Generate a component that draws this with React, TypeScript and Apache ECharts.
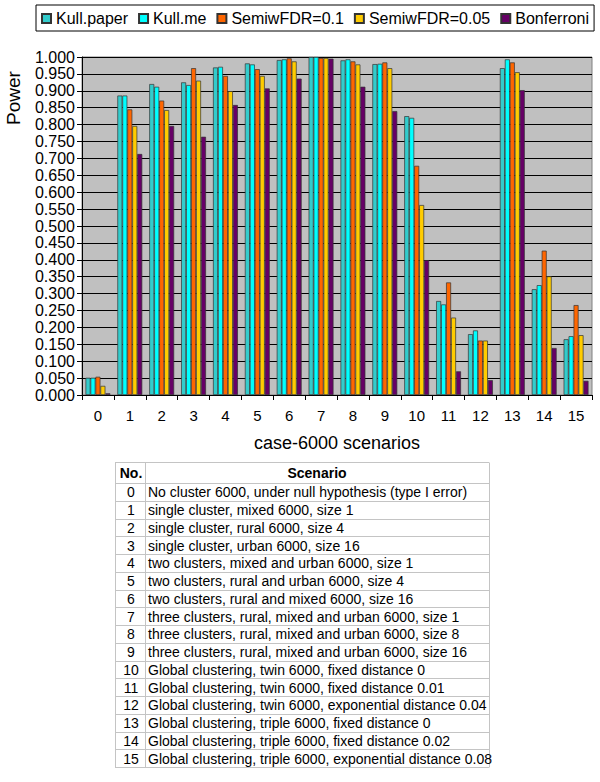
import React, { useEffect, useRef } from "react";
import * as echarts from "echarts";

const categories = ["0", "1", "2", "3", "4", "5", "6", "7", "8", "9", "10", "11", "12", "13", "14", "15"];
const seriesNames = ["Kull.paper", "Kull.me", "SemiwFDR=0.1", "SemiwFDR=0.05", "Bonferroni"];
const kullPaper = [0.051, 0.886, 0.92, 0.925, 0.969, 0.981, 0.991, 1.0, 0.99, 0.979, 0.825, 0.278, 0.18, 0.967, 0.313, 0.165];
const kullMe = [0.051, 0.886, 0.912, 0.917, 0.971, 0.978, 0.993, 1.0, 0.993, 0.98, 0.82, 0.268, 0.191, 0.993, 0.325, 0.174];
const semiFdr01 = [0.054, 0.845, 0.871, 0.967, 0.944, 0.964, 0.996, 0.997, 0.987, 0.984, 0.678, 0.333, 0.161, 0.984, 0.427, 0.266];
const semiFdr005 = [0.027, 0.796, 0.843, 0.93, 0.899, 0.944, 0.987, 0.997, 0.978, 0.967, 0.562, 0.229, 0.161, 0.955, 0.351, 0.177];
const bonferroni = [0.005, 0.713, 0.796, 0.764, 0.858, 0.907, 0.936, 0.995, 0.912, 0.84, 0.399, 0.07, 0.044, 0.902, 0.139, 0.042];
const seriesColors = ["#33CCCC", "#00FFFF", "#FF6600", "#FFCC00", "#660066"];

const tableHeader = ["No.", "Scenario"];
const scenarioNos = ["0", "1", "2", "3", "4", "5", "6", "7", "8", "9", "10", "11", "12", "13", "14", "15"];
const scenarioTexts = [
  "No cluster 6000, under null hypothesis (type I error)",
  "single cluster, mixed 6000, size 1",
  "single cluster, rural 6000, size 4",
  "single cluster, urban 6000, size 16",
  "two clusters, mixed and urban 6000, size 1",
  "two clusters, rural and urban 6000, size 4",
  "two clusters, rural and mixed 6000, size 16",
  "three clusters, rural, mixed and urban 6000, size 1",
  "three clusters, rural, mixed and urban 6000, size 8",
  "three clusters, rural, mixed and urban 6000, size 16",
  "Global clustering, twin 6000, fixed distance 0",
  "Global clustering, twin 6000, fixed distance 0.01",
  "Global clustering, twin 6000, exponential distance 0.04",
  "Global clustering, triple 6000, fixed distance 0",
  "Global clustering, triple 6000, fixed distance 0.02",
  "Global clustering, triple 6000, exponential distance 0.08",
];

const FONT = "'Liberation Sans', Arial, sans-serif";

function buildTable() {
  const x0 = 115, x1 = 145, x2 = 489;
  const top = 462, headerBottom = 483, rowH = 17.75;
  const bottom = headerBottom + rowH * scenarioTexts.length;
  const lineColor = "#C4C4C4";
  const children: any[] = [];
  const ys = [top, headerBottom];
  for (let i = 1; i <= scenarioTexts.length; i++) ys.push(headerBottom + rowH * i);
  ys.forEach((y) => {
    const yy = Math.round(y) + 0.5;
    children.push({ type: "line", shape: { x1: x0, y1: yy, x2: x2, y2: yy }, style: { stroke: lineColor, lineWidth: 1 } });
  });
  [x0, x1, x2].forEach((x) => {
    children.push({ type: "line", shape: { x1: x + 0.5, y1: Math.round(top) + 0.5, x2: x + 0.5, y2: Math.round(bottom) + 0.5 }, style: { stroke: lineColor, lineWidth: 1 } });
  });
  const hy = (top + headerBottom) / 2 + 0.5;
  children.push({ type: "text", x: (x0 + x1) / 2 + 1, y: hy, style: { text: tableHeader[0], font: `bold 14px ${FONT}`, fill: "#000", align: "center", verticalAlign: "middle", textAlign: "center", textVerticalAlign: "middle" } });
  children.push({ type: "text", x: (x1 + x2) / 2, y: hy, style: { text: tableHeader[1], font: `bold 14px ${FONT}`, fill: "#000", align: "center", verticalAlign: "middle", textAlign: "center", textVerticalAlign: "middle" } });
  scenarioTexts.forEach((t, i) => {
    const cy = headerBottom + rowH * (i + 0.5) + 0.5;
    children.push({ type: "text", x: 131, y: cy, style: { text: scenarioNos[i], font: `14px ${FONT}`, fill: "#000", align: "center", verticalAlign: "middle", textAlign: "center", textVerticalAlign: "middle" } });
    children.push({ type: "text", x: 148, y: cy, style: { text: t, font: `14px ${FONT}`, fill: "#000", align: "left", verticalAlign: "middle", textAlign: "left", textVerticalAlign: "middle" } });
  });
  return { type: "group", children };
}

export default function App() {
  const ref = useRef<HTMLDivElement>(null);
  useEffect(() => {
    if (!ref.current) return;
    const chart = echarts.init(ref.current, null, { renderer: "svg" });
    const data = [kullPaper, kullMe, semiFdr01, semiFdr005, bonferroni];
    chart.setOption({
      animation: false,
      backgroundColor: "#FFFFFF",
      textStyle: { fontFamily: FONT },
      legend: {
        left: 36,
        top: 5,
        padding: [5, 5, 4, 5],
        itemWidth: 9,
        itemHeight: 9,
        itemGap: 10,
        borderColor: "#000",
        borderWidth: 1,
        icon: "rect",
        textStyle: { fontSize: 16, color: "#000", fontFamily: FONT, lineHeight: 17 },
        data: seriesNames,
      },
      grid: {
        left: 82,
        right: 8,
        top: 57,
        bottom: 387,
        show: true,
        backgroundColor: "#C0C0C0",
        borderColor: "#808080",
        borderWidth: 1,
        containLabel: false,
      },
      xAxis: {
        type: "category",
        data: categories,
        axisLine: { show: true, lineStyle: { color: "#000", width: 1 } },
        axisTick: { show: true, length: 5, alignWithLabel: false, lineStyle: { color: "#000" } },
        axisLabel: { fontSize: 15, color: "#000", margin: 13, fontFamily: FONT },
        name: "case-6000 scenarios",
        nameLocation: "middle",
        nameGap: 39,
        nameTextStyle: { fontSize: 18, color: "#000", fontFamily: FONT },
        splitLine: { show: false },
      },
      yAxis: {
        type: "value",
        min: 0,
        max: 1,
        interval: 0.05,
        axisLine: { show: true, lineStyle: { color: "#000", width: 1 } },
        axisTick: { show: true, length: 5, lineStyle: { color: "#000" } },
        axisLabel: { fontSize: 16, color: "#000", margin: 7, fontFamily: FONT, formatter: (v: number) => v.toFixed(3) },
        splitLine: { show: true, lineStyle: { color: "#000", width: 1 } },
      },
      graphic: [
        {
          type: "text",
          x: 13,
          y: 98,
          rotation: Math.PI / 2,
          style: { text: "Power", font: `19px ${FONT}`, fill: "#000", align: "center", verticalAlign: "middle", textAlign: "center", textVerticalAlign: "middle" },
        },
        buildTable(),
      ],
      series: seriesNames.map((name, i) => ({
        name,
        type: "bar",
        data: data[i],
        barGap: "0%",
        barCategoryGap: "22%",
        itemStyle: { color: seriesColors[i], borderColor: "#333", borderWidth: 0.7 },
      })),
    });
    return () => chart.dispose();
  }, []);
  return <div ref={ref} style={{ position: "fixed", left: 0, top: 0, width: 600, height: 782 }} />;
}
